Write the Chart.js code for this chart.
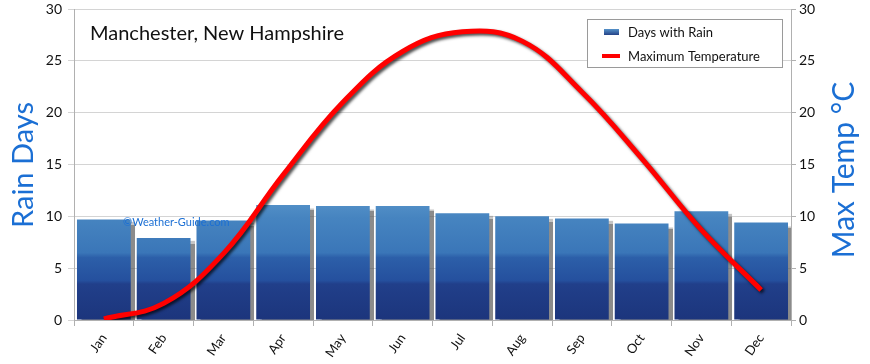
<!DOCTYPE html>
<html>
<head>
<meta charset="utf-8">
<script src="https://cdn.jsdelivr.net/npm/chart.js@4.4.1/dist/chart.umd.min.js"></script>
<style>
html, body { margin: 0; padding: 0; background: #fff; }
#wrap { width: 870px; height: 364px; position: relative; }
</style>
</head>
<body>
<div id="wrap"><canvas id="myChart" width="870" height="364"></canvas></div>
<script>
const months = ['Jan', 'Feb', 'Mar', 'Apr', 'May', 'Jun', 'Jul', 'Aug', 'Sep', 'Oct', 'Nov', 'Dec'];
const rainDays = [9.7, 7.9, 9.6, 11.1, 11.0, 11.0, 10.3, 10.0, 9.8, 9.3, 10.5, 9.4];
const maxTemp = [0.1, 1.6, 6.4, 14.0, 21.0, 25.9, 27.8, 26.9, 22.0, 15.6, 8.7, 2.9];
const chartTitle = 'Manchester, New Hampshire';
const rainLabel = 'Days with Rain';
const tempLabel = 'Maximum Temperature';
const leftTitle = 'Rain Days';
const rightTitle = 'Max Temp °C';
const watermark = '©Weather-Guide.com';

const FONT = 'Lato, "DejaVu Sans", sans-serif';
const BLUE_TEXT = '#1b6fd4';

function barFill(context) {
    const chart = context.chart;
    const area = chart.chartArea;
    if (!area) return '#2c5ea8';
    const g = chart.ctx.createLinearGradient(0, area.bottom, 0, area.bottom - 120);
    g.addColorStop(0, '#1c357c');
    g.addColorStop(0.30, '#213f8a');
    g.addColorStop(0.33, '#25509e');
    g.addColorStop(0.52, '#2c5fa9');
    g.addColorStop(0.56, '#3a76b8');
    g.addColorStop(0.85, '#4684c0');
    g.addColorStop(1, '#5592c9');
    return g;
}

const shadows = {
    id: 'shadows',
    beforeDatasetDraw(chart, args) {
        const c = chart.ctx;
        c.save();
        if (args.index === 0) {
            c.shadowColor = 'rgba(90,90,90,0.7)';
            c.shadowOffsetX = 4;
            c.shadowOffsetY = 3;
            c.shadowBlur = 1;
        } else {
            c.shadowColor = 'rgba(0,0,0,0.7)';
            c.shadowOffsetX = 2;
            c.shadowOffsetY = 2;
            c.shadowBlur = 3;
        }
    },
    afterDatasetDraw(chart) {
        chart.ctx.restore();
    }
};

const decorations = {
    id: 'decorations',
    afterDraw(chart) {
        const c = chart.ctx;
        c.save();

        // title inside plot
        c.fillStyle = '#111';
        c.font = '20px ' + FONT;
        c.textBaseline = 'middle';
        c.textAlign = 'left';
        c.fillText(chartTitle, 90, 34);

        // watermark
        c.fillStyle = BLUE_TEXT;
        c.font = '11px ' + FONT;
        c.fillText(watermark, 123, 222);

        // legend box
        c.fillStyle = '#fff';
        c.fillRect(587.5, 19.5, 195, 48);
        c.strokeStyle = '#9a9a9a';
        c.lineWidth = 1;
        c.strokeRect(587.5, 19.5, 195, 48);
        const lg = c.createLinearGradient(0, 29, 0, 36);
        lg.addColorStop(0, '#5592c9');
        lg.addColorStop(1, '#1c357c');
        c.fillStyle = lg;
        c.fillRect(604, 29, 15, 6);
        c.strokeStyle = '#ff0000';
        c.lineWidth = 4;
        c.beginPath();
        c.moveTo(602, 56);
        c.lineTo(620, 56);
        c.stroke();
        c.fillStyle = '#111';
        c.font = '13px ' + FONT;
        c.fillText(rainLabel, 628, 33);
        c.fillText(tempLabel, 628, 57);

        // axis titles
        c.fillStyle = BLUE_TEXT;
        c.textAlign = 'center';
        c.font = '29px ' + FONT;
        c.save();
        c.translate(24, 165);
        c.rotate(-Math.PI / 2);
        c.fillText(leftTitle, 0, 0);
        c.restore();
        c.font = '30px ' + FONT;
        c.save();
        c.translate(844, 170);
        c.rotate(-Math.PI / 2);
        c.fillText(rightTitle, 0, 0);
        c.restore();

        c.restore();
    }
};

function fixVertical(width) {
    return function (scale) {
        scale.width = width;
        scale.paddingTop = 0;
        scale.paddingBottom = 0;
    };
}

const ctx = document.getElementById('myChart');

new Chart(ctx, {
    data: {
        labels: months,
        datasets: [{
            type: 'bar',
            label: rainLabel,
            data: rainDays,
            yAxisID: 'y',
            backgroundColor: barFill,
            borderWidth: 0,
            barPercentage: 0.9,
            categoryPercentage: 1.0,
            order: 2
        }, {
            type: 'line',
            label: tempLabel,
            data: maxTemp,
            yAxisID: 'y1',
            borderColor: '#ff0000',
            borderWidth: 5,
            tension: 0.4,
            pointRadius: 0,
            fill: false,
            order: 1
        }]
    },
    options: {
        responsive: false,
        animation: false,
        layout: { padding: { top: 9, left: 0, right: 0, bottom: 0 } },
        plugins: {
            legend: { display: false },
            tooltip: { enabled: false }
        },
        scales: {
            x: {
                offset: true,
                grid: {
                    offset: true,
                    drawOnChartArea: false,
                    drawTicks: true,
                    tickLength: 6,
                    color: '#b0b0b0'
                },
                border: { color: '#b0b0b0' },
                ticks: {
                    color: '#111',
                    font: { family: FONT, size: 13 },
                    minRotation: 55,
                    maxRotation: 55,
                    padding: 5
                },
                afterFit(scale) { scale.height = 44; }
            },
            y: {
                position: 'left',
                min: 0,
                max: 30,
                ticks: {
                    stepSize: 5,
                    color: '#111',
                    font: { family: FONT, size: 14 },
                    padding: 6
                },
                grid: { color: '#d4d4d4', tickLength: 6 },
                border: { color: '#b0b0b0' },
                afterFit: fixVertical(74)
            },
            y1: {
                position: 'right',
                min: 0,
                max: 30,
                ticks: {
                    stepSize: 5,
                    color: '#111',
                    font: { family: FONT, size: 14 },
                    padding: 3
                },
                grid: { drawOnChartArea: false, color: '#b0b0b0', tickLength: 5 },
                border: { color: '#b0b0b0' },
                afterFit: fixVertical(79)
            }
        }
    },
    plugins: [shadows, decorations]
});
</script>
</body>
</html>
